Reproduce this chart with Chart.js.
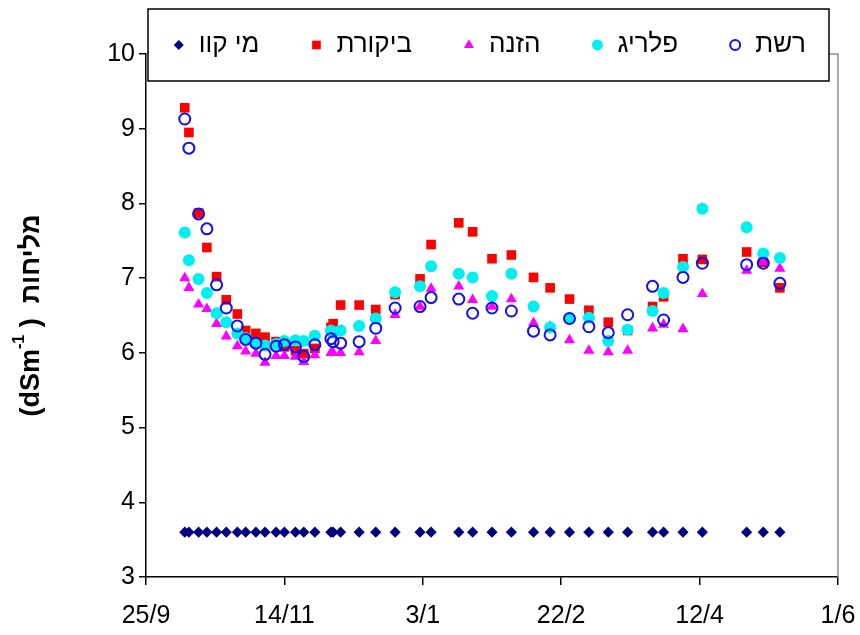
<!DOCTYPE html>
<html lang="he">
<head>
<meta charset="utf-8">
<title>מליחות</title>
<script src="https://cdn.jsdelivr.net/npm/chart.js@4.4.1/dist/chart.umd.min.js"></script>
<style>
  html, body { margin: 0; padding: 0; background: #fff; }
  #wrap { width: 860px; height: 635px; }
</style>
</head>
<body>
<div id="wrap"><canvas id="salinity" width="860" height="635"></canvas></div>
<script>
// days counted from 25/9
const days = [14, 15.5, 19, 22, 25.5, 29, 33, 36, 39.7, 43, 47, 50, 54, 57, 61, 66.8, 67.6, 70.3, 77, 83,
    90, 99, 103, 113, 118, 125, 132, 140, 146, 153, 160, 167, 174, 183, 187, 194, 201, 217, 223, 229];

const reshet = [9.13, 8.74, 7.86, 7.66, 6.91, 6.60, 6.36, 6.18, 6.13, 5.98, 6.09, 6.11, 6.08, 5.95, 6.11, 6.19, 6.15, 6.13, 6.15, 6.33,
    6.60, 6.62, 6.74, 6.72, 6.53, 6.60, 6.56, 6.29, 6.24, 6.46, 6.35, 6.27, 6.51, 6.89, 6.44, 7.01, 7.20, 7.18, 7.20, 6.93];
const palrig = [7.61, 7.24, 6.99, 6.80, 6.53, 6.41, 6.26, 6.20, 6.13, 6.10, 6.12, 6.16, 6.17, 6.16, 6.23, 6.30, 6.27, 6.30, 6.36, 6.46,
    6.81, 6.89, 7.16, 7.06, 7.01, 6.76, 7.06, 6.62, 6.34, 6.46, 6.47, 6.16, 6.31, 6.56, 6.80, 7.15, 7.93, 7.68, 7.33, 7.27];
const hazana = [7.00, 6.87, 6.65, 6.59, 6.39, 6.22, 6.09, 6.02, 5.99, 5.87, 5.96, 5.96, 5.95, 5.88, 5.97, 6.00, 6.00, 6.00, 6.01, 6.16,
    6.51, 6.62, 6.86, 6.89, 6.71, 6.62, 6.72, 6.40, 6.35, 6.17, 6.03, 6.01, 6.03, 6.33, 6.38, 6.32, 6.79, 7.10, 7.22, 7.13];
const bikoret = [9.28, 8.95, 7.87, 7.41, 7.02, 6.71, 6.52, 6.30, 6.26, 6.21, 6.15, 6.08, 6.03, 5.99, 6.06, 6.34, 6.39, 6.64, 6.64, 6.58,
    6.78, 6.99, 7.45, 7.74, 7.62, 7.26, 7.31, 7.01, 6.87, 6.72, 6.57, 6.41, 6.30, 6.62, 6.75, 7.26, 7.25, 7.35, 7.21, 6.87];
const meiKav = [3.6, 3.6, 3.6, 3.6, 3.6, 3.6, 3.6, 3.6, 3.6, 3.6, 3.6, 3.6, 3.6, 3.6, 3.6, 3.6, 3.6, 3.6, 3.6, 3.6,
    3.6, 3.6, 3.6, 3.6, 3.6, 3.6, 3.6, 3.6, 3.6, 3.6, 3.6, 3.6, 3.6, 3.6, 3.6, 3.6, 3.6, 3.6, 3.6, 3.6];

const xTickLabels = ['25/9', '14/11', '3/1', '22/2', '12/4', '1/6'];

const FONT = '"Liberation Sans", Arial, sans-serif';

function points(values) {
    return values.map((v, i) => ({ x: days[i], y: v }));
}

// grey frame on top/right of the plot area
const frame = {
    id: 'frame',
    beforeDatasetsDraw(chart) {
        const { ctx, chartArea: a } = chart;
        ctx.save();
        ctx.strokeStyle = '#8c8c8c';
        ctx.lineWidth = 1.5;
        ctx.beginPath();
        ctx.moveTo(a.left, a.top);
        ctx.lineTo(a.right, a.top);
        ctx.lineTo(a.right, a.bottom);
        ctx.stroke();
        ctx.restore();
    }
};

// boxed legend, right to left
const boxLegend = {
    id: 'boxLegend',
    afterDraw(chart) {
        const ctx = chart.ctx;
        ctx.save();
        ctx.fillStyle = '#fff';
        ctx.fillRect(148, 9, 681, 72);
        ctx.strokeStyle = '#000';
        ctx.lineWidth = 1.5;
        ctx.strokeRect(148, 9, 681, 72);
        ctx.font = '26px ' + FONT;
        ctx.textBaseline = 'middle';
        ctx.textAlign = 'right';
        let x = 806;
        const y = 45;
        chart.data.datasets.forEach(ds => {
            ctx.fillStyle = '#000';
            ctx.fillText(ds.label, x, y);
            const w = ctx.measureText(ds.label).width;
            const sx = x - w - 20;
            ctx.fillStyle = ds.pointBackgroundColor;
            ctx.strokeStyle = ds.pointBorderColor;
            ctx.lineWidth = ds.pointBorderWidth;
            Chart.helpers.drawPoint(ctx, {
                pointStyle: ds.pointStyle,
                radius: ds.pointRadius * 0.9,
                borderWidth: ds.pointBorderWidth,
                rotation: 0
            }, sx, y);
            x = sx - 57;
        });
        ctx.restore();
    }
};

// rotated y title with superscript
const yTitle = {
    id: 'yTitle',
    afterDraw(chart) {
        const ctx = chart.ctx;
        const a = chart.chartArea;
        const big = 'bold 27px ' + FONT;
        const small = 'bold 16px ' + FONT;
        const parts = [
            { t: '(dSm', f: big, dy: 0 },
            { t: '-1', f: small, dy: -12 },
            { t: ' )  ', f: big, dy: 0 },
            { t: 'מליחות', f: big, dy: 0 }
        ];
        ctx.save();
        let total = 0;
        parts.forEach(p => { ctx.font = p.f; p.w = ctx.measureText(p.t).width; total += p.w; });
        ctx.translate(32, (a.top + a.bottom) / 2);
        ctx.rotate(-Math.PI / 2);
        ctx.fillStyle = '#000';
        ctx.textBaseline = 'middle';
        ctx.textAlign = 'left';
        let x = -total / 2;
        parts.forEach(p => {
            ctx.font = p.f;
            ctx.fillText(p.t, x, p.dy);
            x += p.w;
        });
        ctx.restore();
    }
};

new Chart(document.getElementById('salinity'), {
    type: 'scatter',
    data: {
        datasets: [
            {
                label: 'רשת',
                data: points(reshet),
                pointStyle: 'circle',
                pointRadius: 5.5,
                pointBackgroundColor: 'rgba(0,0,0,0)',
                pointBorderColor: '#1010f0',
                pointBorderWidth: 2
            },
            {
                label: 'פלריג',
                data: points(palrig),
                pointStyle: 'circle',
                pointRadius: 6,
                pointBackgroundColor: '#00f0f0',
                pointBorderColor: '#00f0f0',
                pointBorderWidth: 0
            },
            {
                label: 'הזנה',
                data: points(hazana),
                pointStyle: 'triangle',
                pointRadius: 6.4,
                pointBackgroundColor: '#ff00ff',
                pointBorderColor: '#ff00ff',
                pointBorderWidth: 0
            },
            {
                label: 'ביקורת',
                data: points(bikoret),
                pointStyle: 'rect',
                pointRadius: 6.8,
                pointBackgroundColor: '#ff0000',
                pointBorderColor: '#ff0000',
                pointBorderWidth: 0
            },
            {
                label: 'מי קוו',
                data: points(meiKav),
                pointStyle: 'rectRot',
                pointRadius: 5.6,
                pointBackgroundColor: '#000080',
                pointBorderColor: '#000080',
                pointBorderWidth: 0
            }
        ]
    },
    options: {
        responsive: false,
        animation: false,
        layout: { padding: { left: 0, top: 54, right: 22, bottom: 0 } },
        plugins: {
            legend: { display: false },
            tooltip: { enabled: false }
        },
        scales: {
            x: {
                type: 'linear',
                min: 0,
                max: 250,
                afterFit(scale) {
                    scale.height = 58;
                    scale.paddingLeft = 0;
                    scale.paddingRight = 0;
                },
                afterBuildTicks(scale) {
                    scale.ticks = xTickLabels.map((l, i) => ({ value: i * 50 }));
                },
                ticks: {
                    color: '#000',
                    font: { family: FONT, size: 25 },
                    padding: 16,
                    maxRotation: 0,
                    callback: (v, i) => xTickLabels[i]
                },
                grid: { drawOnChartArea: false, drawTicks: true, tickLength: 8, color: '#000', lineWidth: 1.5 },
                border: { color: '#000', width: 1.5 }
            },
            y: {
                min: 3,
                max: 10,
                afterFit(scale) { scale.width = 146; },
                ticks: {
                    stepSize: 1,
                    color: '#000',
                    font: { family: FONT, size: 25 },
                    padding: 4
                },
                grid: { drawOnChartArea: false, drawTicks: true, tickLength: 7, color: '#000', lineWidth: 1.5 },
                border: { color: '#000', width: 1.5 }
            }
        }
    },
    plugins: [frame, boxLegend, yTitle]
});
</script>
</body>
</html>
